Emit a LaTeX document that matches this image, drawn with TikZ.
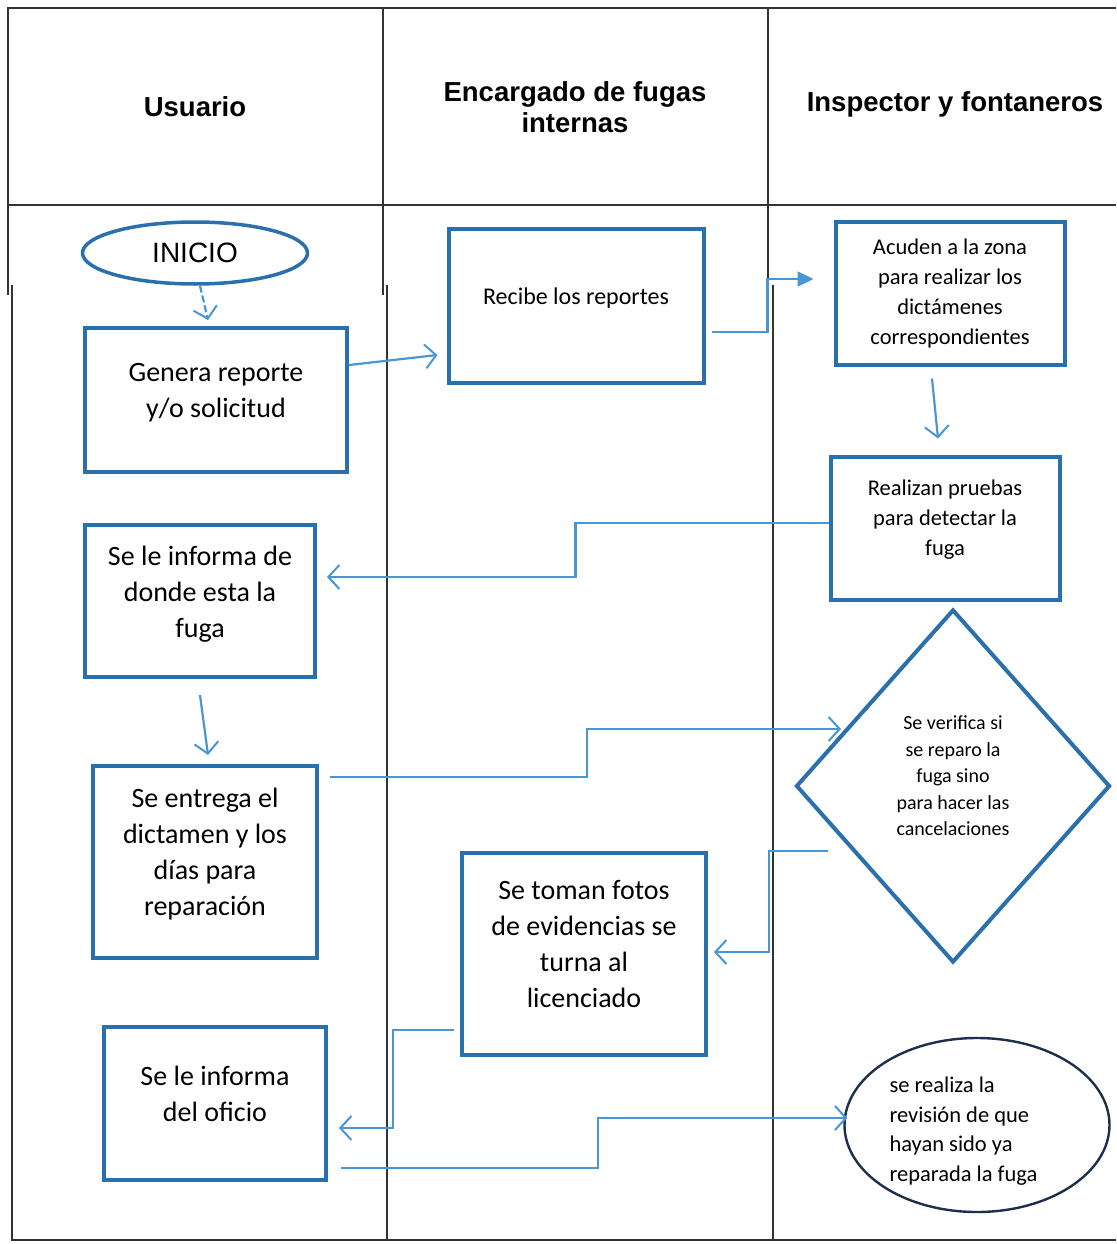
\documentclass[tikz,border=0pt]{standalone}
\usepackage{fontspec}
\setmainfont{Carlito}
\newfontfamily\headfont{Liberation Sans}
\usetikzlibrary{arrows.meta,shapes.geometric}

\definecolor{boxblue}{RGB}{42,112,172}
\definecolor{linkblue}{RGB}{72,150,212}
\definecolor{navy}{RGB}{28,48,78}

\begin{document}
\begin{tikzpicture}[x=1pt,y=-1pt]
          \useasboundingbox (0,0) rectangle (1116,1244);
          \tikzset{LaneStyle/.style={black!80,line width=1.4pt}};
          \tikzset{HeadStyle/.style={font=\headfont\bfseries\fontsize{27.5}{31}\selectfont,align=center}};
          \tikzset{BoxStyle/.style={draw=boxblue,line width=4pt,fill=white,align=center,
                    inner sep=4pt,font=\fontsize{28}{36}\selectfont}};
          \tikzset{SmallBox/.style={BoxStyle,font=\fontsize{22.5}{30}\selectfont}};
          \tikzset{LinkStyle/.style={linkblue,line width=2.2pt,
                    -{Straight Barb[length=11pt,width=24pt,line width=2pt]}}};

          \draw[LaneStyle] (1116,8) -- (8,8) -- (8,295);
          \draw[LaneStyle] (12,285) -- (12,1240) -- (1116,1240);
          \draw[LaneStyle] (8,205) -- (1116,205);
          \draw[LaneStyle] (383,8) -- (383,295);
          \draw[LaneStyle] (387,285) -- (387,1240);
          \draw[LaneStyle] (768,8) -- (768,295);
          \draw[LaneStyle] (773,285) -- (773,1240);

          \node[HeadStyle] (usuario) at (195,107) {Usuario};
          \node[HeadStyle] (encargado) at (575,107) {Encargado de fugas\\internas};
          \node[HeadStyle] (inspector) at (955,104) {Inspector y fontaneros};

          \node[ellipse,draw=boxblue,line width=3.5pt,minimum width=225pt,minimum height=62pt,
                inner sep=0pt,font=\headfont\fontsize{28}{32}\selectfont] (inicio) at (195,253) {INICIO};
          \node[BoxStyle,minimum width=262pt,minimum height=144pt] (genera) at (216,400)
               {Genera reporte\\y/o solicitud\\[-16pt]};
          \node[BoxStyle,minimum width=255pt,minimum height=154pt,font=\fontsize{24}{30}\selectfont] (recibe) at (576,306)
               {Recibe los reportes\\[-10pt]};
          \node[SmallBox,minimum width=229pt,minimum height=143pt] (acuden) at (950,293)
               {Acuden a la zona\\para realizar los\\dictámenes\\correspondientes};
          \node[SmallBox,minimum width=229pt,minimum height=143pt] (realizan) at (945,528)
               {Realizan pruebas\\para detectar la\\fuga\\[-10pt]};
          \node[BoxStyle,minimum width=230pt,minimum height=152pt] (informa) at (200,601)
               {Se le informa de\\donde esta la\\fuga\\[-18pt]};
          \node[BoxStyle,minimum width=224pt,minimum height=192pt] (entrega) at (205,862)
               {Se entrega el\\dictamen y los\\días para\\reparación\\[-16pt]};
          \node[diamond,draw=boxblue,line width=4pt,minimum width=314pt,minimum height=353pt,
                inner sep=0pt,align=center,font=\fontsize{20}{26.5}\selectfont] (verifica) at (953,786)
               {Se verifica si\\se reparo la\\fuga sino\\para hacer las\\cancelaciones\\[-6pt]};
          \node[BoxStyle,minimum width=244pt,minimum height=202pt] (fotos) at (584,954)
               {Se toman fotos\\de evidencias se\\turna al\\licenciado\\[-16pt]};
          \node[BoxStyle,minimum width=222pt,minimum height=153pt] (oficio) at (215,1103)
               {Se le informa\\del oficio\\[-18pt]};
          \node[ellipse,draw=navy,line width=2.4pt,minimum width=265pt,minimum height=174pt,
                inner sep=0pt,align=flush left,text width=175pt,font=\fontsize{22.5}{29.5}\selectfont] (revision) at (977,1125)
               {\rule{0pt}{28pt}se realiza la\\revisión de que\\hayan sido ya\\reparada la fuga};

          \draw[LinkStyle,dash pattern=on 7pt off 3pt] ([xshift=5pt]inicio.south) -- ([xshift=-8pt,yshift=6pt]genera.north);
          \draw[LinkStyle] ([yshift=35pt]genera.east) -- ([xshift=-9pt,yshift=-49pt]recibe.west);
          \draw[LinkStyle,-{Triangle[length=16pt,width=15pt]}] ([xshift=6pt,yshift=-26pt]recibe.east)
               -- ++(56,0) |- ([xshift=-20pt,yshift=14pt]acuden.west);
          \draw[LinkStyle] ([xshift=-18pt,yshift=-12pt]acuden.south) -- ([xshift=-7pt,yshift=16pt]realizan.north);
          \draw[LinkStyle] ([yshift=5pt]realizan.west) -- ++(-253,0) |- ([xshift=10pt,yshift=24pt]informa.east);
          \draw[LinkStyle] ([yshift=-16pt]informa.south) -- ([xshift=3pt,yshift=9pt]entrega.north);
          \draw[LinkStyle] ([xshift=11pt,yshift=85pt]entrega.east) -- ++(257,0) |- ([xshift=47pt,yshift=57pt]verifica.west);
          \draw[LinkStyle] ([xshift=34pt,yshift=-65pt]verifica.west) -- ++(-59,0) |- ([xshift=6pt,yshift=2pt]fotos.east);
          \draw[LinkStyle] ([xshift=-6pt,yshift=-76pt]fotos.west) -- ++(-61,0) |- ([xshift=11pt,yshift=-25pt]oficio.east);
          \draw[LinkStyle] ([xshift=13pt,yshift=-65pt]oficio.east) -- ++(257,0) |- ([xshift=4pt,yshift=7pt]revision.west);
\end{tikzpicture}
\end{document}
